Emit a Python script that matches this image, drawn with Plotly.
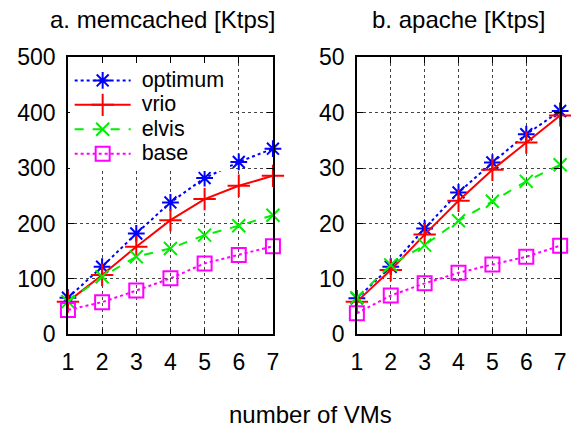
import plotly.graph_objects as go

vms = [1, 2, 3, 4, 5, 6, 7]

mem_optimum = [66, 122, 182, 238, 282, 311, 335]
mem_vrio = [59, 107, 158, 206, 244, 268, 286]
mem_elvis = [59, 104, 140, 155, 179, 196, 215]
mem_base = [44, 58, 79, 101, 128, 143, 159]

apa_optimum = [6.5, 12.2, 19.1, 25.6, 31.0, 36.1, 40.3]
apa_vrio = [5.9, 11.6, 18.0, 24.1, 29.7, 34.6, 39.5]
apa_elvis = [6.6, 12.5, 16.1, 20.5, 24.0, 27.6, 30.6]
apa_base = [3.8, 7.0, 9.2, 11.1, 12.6, 14.0, 16.0]

series_names = ["optimum", "vrio", "elvis", "base"]
colors = ["#0000ff", "#ff0000", "#00ee00", "#ff00ff"]
dashes = ["dot", "solid", "dash", "dot"]
symbols = ["asterisk-open", "cross-thin-open", "x-thin-open", "square-open"]
msizes = [14, 16, 13, 14]

FONT = "Liberation Sans, Arial, sans-serif"

fig = go.Figure()

for panel, data in enumerate([
    [mem_optimum, mem_vrio, mem_elvis, mem_base],
    [apa_optimum, apa_vrio, apa_elvis, apa_base],
]):
    xa = "x" if panel == 0 else "x2"
    ya = "y" if panel == 0 else "y2"
    for i, ys in enumerate(data):
        fig.add_trace(go.Scatter(
            x=vms, y=ys,
            name='<span style="font-size:21.5px">&nbsp;' + series_names[i] + "</span>",
            mode="lines+markers",
            xaxis=xa, yaxis=ya,
            line=dict(color=colors[i], dash=dashes[i], width=2),
            marker=dict(symbol=symbols[i], size=msizes[i], color=colors[i],
                        line=dict(color=colors[i], width=2)),
            showlegend=(panel == 0),
            cliponaxis=False,
        ))

axis_common = dict(
    showline=True, linecolor="black", linewidth=1.5, mirror="ticks",
    ticks="inside", ticklen=6, tickcolor="black", tickwidth=1,
    showgrid=True, gridcolor="#444444", griddash="dot", gridwidth=1,
    zeroline=False, automargin=False, tickfont=dict(family=FONT, size=23, color="black"),
)

fig.update_layout(
    width=571, height=427, autosize=False,
    margin=dict(l=0, r=0, t=0, b=0, pad=0, autoexpand=False),
    paper_bgcolor="white", plot_bgcolor="white",
    font=dict(family=FONT, size=23, color="black"),
    xaxis=dict(domain=[0.119, 0.478], range=[1, 7], tickvals=vms, anchor="y",
               ticklabelstandoff=6, **axis_common),
    yaxis=dict(domain=[0.217, 0.866], range=[0, 500], dtick=100, anchor="x",
               ticklabelstandoff=6, **axis_common),
    xaxis2=dict(domain=[0.625, 0.981], range=[1, 7], tickvals=vms, anchor="y2",
                ticklabelstandoff=6, **axis_common),
    yaxis2=dict(domain=[0.217, 0.866], range=[0, 50], dtick=10, anchor="x2",
                ticklabelstandoff=6, **axis_common),
    legend=dict(x=0.122, y=0.852, xanchor="left", yanchor="top",
                bgcolor="white", borderwidth=0,
                font=dict(family=FONT, size=16.5, color="black"),
                tracegroupgap=0, itemwidth=56),
    annotations=[
        dict(text="a. memcached [Ktps]", x=162 / 571, y=1 - 19 / 427, xref="paper", yref="paper",
             xanchor="center", yanchor="middle",
             showarrow=False, font=dict(family=FONT, size=24)),
        dict(text="b. apache [Ktps]", x=458 / 571, y=1 - 19 / 427, xref="paper", yref="paper",
             xanchor="center", yanchor="middle",
             showarrow=False, font=dict(family=FONT, size=24)),
        dict(text="number of VMs", x=310 / 571, y=1 - 414 / 427, xref="paper", yref="paper",
             xanchor="center", yanchor="middle",
             showarrow=False, font=dict(family=FONT, size=24)),
    ],
)

fig.write_html("out.html")
